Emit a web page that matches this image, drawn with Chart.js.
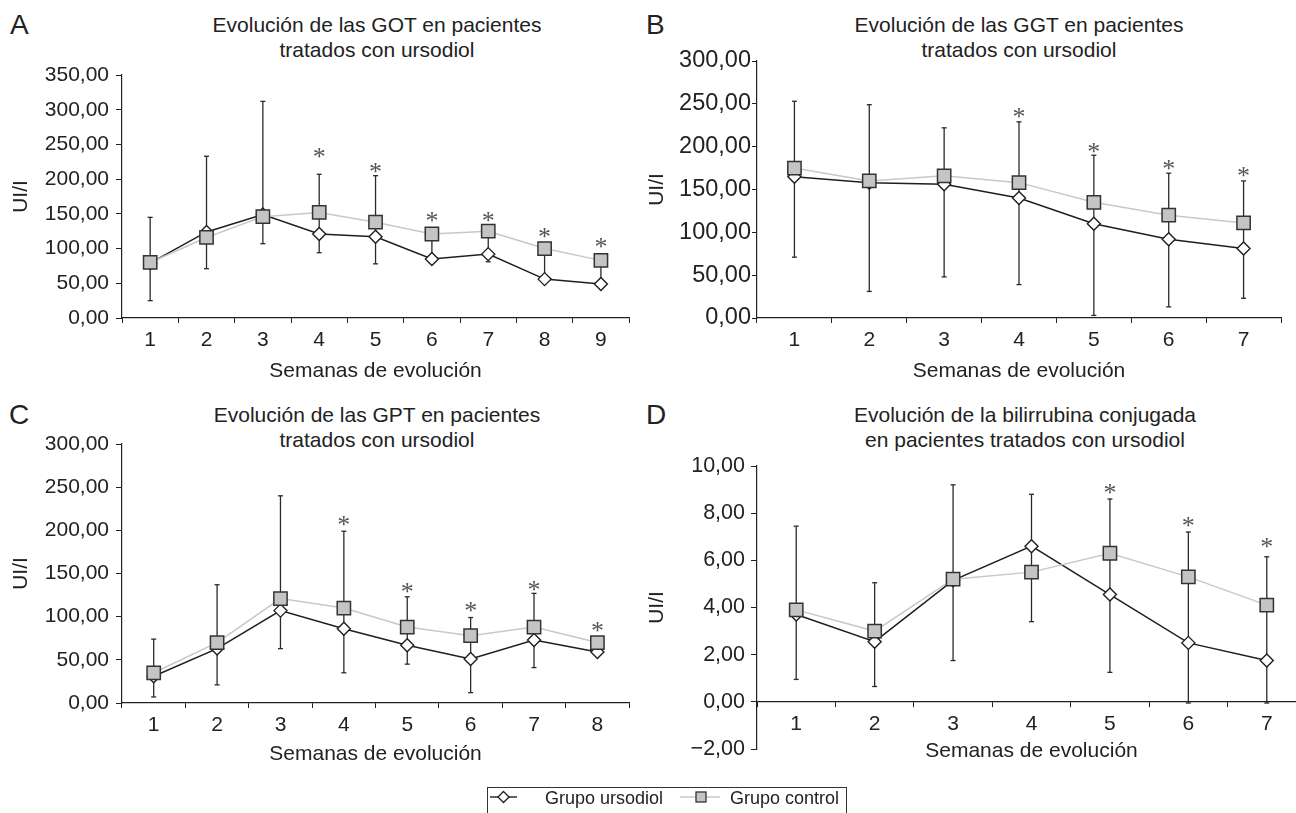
<!DOCTYPE html>
<html lang="es">
<head>
<meta charset="UTF-8">
<title>Evolución de GOT, GGT, GPT y bilirrubina con ursodiol</title>
<script src="https://cdn.jsdelivr.net/npm/chart.js"></script>
<style>
  body { margin: 0; width: 1296px; height: 813px; overflow: hidden; background: #fff; position: relative;
         font-family: "Liberation Sans", Arial, sans-serif; color: #222; }
  canvas { position: absolute; }
  .letra { position: absolute; font-size: 28px; line-height: 28px; }
  .titulo { position: absolute; width: 520px; text-align: center; font-size: 21px; line-height: 25px; }
  .leyenda-txt { position: absolute; font-size: 18px; line-height: 18px; white-space: nowrap; }
</style>
</head>
<body>
<div class="letra" style="left:10px; top:11px;">A</div>
<div class="letra" style="left:646px; top:11px;">B</div>
<div class="letra" style="left:9px; top:401px;">C</div>
<div class="letra" style="left:646px; top:401px;">D</div>

<div class="titulo" style="left:117px; top:12px;">Evolución de las GOT en pacientes<br>tratados con ursodiol</div>
<div class="titulo" style="left:759px; top:12px;">Evolución de las GGT en pacientes<br>tratados con ursodiol</div>
<div class="titulo" style="left:117px; top:402px;">Evolución de las GPT en pacientes<br>tratados con ursodiol</div>
<div class="titulo" style="left:765px; top:402px;">Evolución de la bilirrubina conjugada<br>en pacientes tratados con ursodiol</div>

<script>
// semanas de evolución
const semanas9 = ['1', '2', '3', '4', '5', '6', '7', '8', '9'];
const semanas8 = ['1', '2', '3', '4', '5', '6', '7', '8'];
const semanas7 = ['1', '2', '3', '4', '5', '6', '7'];

// A - GOT
const gotUrsodiol = [79, 124, 149, 121, 117, 85, 92, 56, 49];
const gotControl  = [80, 116, 146, 152, 138, 121, 125, 100, 83];
const gotSup      = [145, 233, 312, 207, 205, null, null, null, null];
const gotInf      = [25, 71, 107, 94, 78, null, 81, null, null];
const gotSignif   = [null, null, null, 236, 215, 144, 144, 122, 107];

// B - GGT
const ggtUrsodiol = [165, 158, 156, 140, 110, 92, 81];
const ggtControl  = [175, 160, 166, 158, 135, 120, 111];
const ggtSup      = [253, 249, 222, 229, 190, 169, 160];
const ggtInf      = [71, 31, 48, 39, 3, 13, 23];
const ggtSignif   = [null, null, null, 239, 198, 178, 170];

// C - GPT
const gptUrsodiol = [31, 63, 107, 86, 67, 51, 73, 59];
const gptControl  = [35, 70, 121, 110, 88, 78, 88, 70];
const gptSup      = [74, 137, 240, 199, 123, 99, 127, null];
const gptInf      = [7, 21, 63, 35, 45, 12, 41, null];
const gptSignif   = [null, null, null, 210, 132, 110, 135, 87];

// D - bilirrubina conjugada
const bilUrsodiol = [3.7, 2.55, 5.15, 6.6, 4.55, 2.5, 1.75];
const bilControl  = [3.9, 3.0, 5.2, 5.5, 6.3, 5.3, 4.1];
const bilSup      = [7.45, 5.05, 9.2, 8.8, 8.6, 7.2, 6.15];
const bilInf      = [0.95, 0.65, 1.75, 3.4, 1.25, -0.05, -0.05];
const bilSignif   = [null, null, null, null, 9.0, 7.6, 6.7];

const FONT = '"Liberation Sans", Arial, sans-serif';
const INK = '#222';

const panels = [
  { labels: semanas9, urso: gotUrsodiol, ctrl: gotControl, hi: gotSup, lo: gotInf, sig: gotSignif,
    yMin: 0, yMax: 350, yStep: 50,
    canvas: { left: 0, top: 0, w: 640, h: 400 }, plot: { l: 122, t: 75, r: 631, b: 318 },
    xH: 65.6, yTitlePad: 9, yFont: 21, yTick: 6, yPad: 7 },
  { labels: semanas7, urso: ggtUrsodiol, ctrl: ggtControl, hi: ggtSup, lo: ggtInf, sig: ggtSignif,
    yMin: 0, yMax: 300, yStep: 50,
    canvas: { left: 640, top: 0, w: 656, h: 400 }, plot: { l: 757, t: 61, r: 1281, b: 318 },
    xH: 65.6, yTitlePad: 5, yFont: 23.5, yTick: 5, yPad: 1 },
  { labels: semanas8, urso: gptUrsodiol, ctrl: gptControl, hi: gptSup, lo: gptInf, sig: gptSignif,
    yMin: 0, yMax: 300, yStep: 50,
    canvas: { left: 0, top: 400, w: 640, h: 400 }, plot: { l: 122, t: 444, r: 631, b: 703 },
    xH: 63.6, yTitlePad: 9, yFont: 21, yTick: 6, yPad: 7 },
  { labels: semanas7, urso: bilUrsodiol, ctrl: bilControl, hi: bilSup, lo: bilInf, sig: bilSignif,
    yMin: -2, yMax: 10, yStep: 2, axisAtZero: true,
    canvas: { left: 640, top: 400, w: 680, h: 380 }, plot: { l: 757, t: 466, r: 1306, b: 749 },
    xH: 61.6, yTitlePad: 5, yFont: 21.5, yTick: 6, yPad: 6 }
];

function fmt(v) {
  return v.toFixed(2).replace('.', ',').replace('-', '\u2212');
}

// barras de error y asteriscos
function marcas(p) {
  return {
    id: 'marcas',
    beforeDatasetsDraw(chart) {
      const { ctx, scales: { x, y } } = chart;
      ctx.save();
      ctx.strokeStyle = '#2a2a2a';
      ctx.lineWidth = 1.3;
      p.labels.forEach((lab, i) => {
        const px = x.getPixelForValue(i);
        const vals = [p.urso[i], p.ctrl[i], p.hi[i], p.lo[i]].filter(v => v != null);
        ctx.beginPath();
        ctx.moveTo(px, y.getPixelForValue(Math.max(...vals)));
        ctx.lineTo(px, y.getPixelForValue(Math.min(...vals)));
        ctx.stroke();
        [p.hi[i], p.lo[i]].forEach(v => {
          if (v == null) return;
          const py = y.getPixelForValue(v);
          ctx.beginPath();
          ctx.moveTo(px - 2.5, py);
          ctx.lineTo(px + 2.5, py);
          ctx.stroke();
        });
      });
      ctx.restore();
    },
    afterDatasetsDraw(chart) {
      const { ctx, scales: { x, y } } = chart;
      ctx.save();
      ctx.fillStyle = '#555';
      ctx.font = '26px "Liberation Serif", "Times New Roman", serif';
      ctx.textAlign = 'center';
      ctx.textBaseline = 'middle';
      p.sig.forEach((v, i) => {
        if (v == null) return;
        ctx.fillText('*', x.getPixelForValue(i), y.getPixelForValue(v) + 4.5);
      });
      ctx.restore();
    }
  };
}

function makeChart(p) {
  const cv = document.createElement('canvas');
  cv.width = p.canvas.w;
  cv.height = p.canvas.h;
  cv.style.left = p.canvas.left + 'px';
  cv.style.top = p.canvas.top + 'px';
  document.body.appendChild(cv);

  const bottomPad = p.canvas.top + p.canvas.h - p.plot.b - (p.axisAtZero ? 0 : p.xH);
  const yW = p.plot.l - p.canvas.left;

  new Chart(cv, {
    type: 'line',
    data: {
      labels: p.labels,
      datasets: [
        {
          label: 'Grupo control',
          data: p.ctrl,
          borderColor: '#c8c8c8',
          borderWidth: 1.5,
          pointStyle: 'rect',
          pointRadius: 9.4,
          pointBackgroundColor: '#c4c4c4',
          pointBorderColor: '#333',
          pointBorderWidth: 1.5,
          tension: 0
        },
        {
          label: 'Grupo ursodiol',
          data: p.urso,
          borderColor: '#1e1e1e',
          borderWidth: 1.5,
          pointStyle: 'rectRot',
          pointRadius: 6.5,
          pointBackgroundColor: '#fff',
          pointBorderColor: '#1e1e1e',
          pointBorderWidth: 1.4,
          tension: 0
        }
      ]
    },
    options: {
      responsive: false,
      animation: false,
      devicePixelRatio: 1,
      layout: {
        padding: { left: 0, top: p.plot.t - p.canvas.top, right: p.canvas.left + p.canvas.w - p.plot.r, bottom: bottomPad }
      },
      plugins: { legend: { display: false }, tooltip: { enabled: false } },
      scales: {
        x: {
          type: 'category',
          offset: true,
          position: p.axisAtZero ? { y: 0 } : 'bottom',
          grid: { display: true, drawOnChartArea: false, drawTicks: true, tickLength: 5, offset: true, color: INK, lineWidth: 1 },
          border: { display: true, color: INK, width: 1.2 },
          ticks: { color: INK, font: { family: FONT, size: 21 }, padding: 4.5, maxRotation: 0, autoSkip: false },
          title: { display: true, text: 'Semanas de evolución', color: INK, font: { family: FONT, size: 21 }, padding: 0 },
          afterFit: s => { s.height = p.xH; }
        },
        y: {
          type: 'linear',
          min: p.yMin,
          max: p.yMax,
          grid: { display: true, drawOnChartArea: false, drawTicks: true, tickLength: p.yTick, color: INK, lineWidth: 1 },
          border: { display: true, color: INK, width: 1.2 },
          ticks: { stepSize: p.yStep, color: INK, font: { family: FONT, size: p.yFont }, padding: p.yPad, callback: v => fmt(v) },
          title: { display: true, text: 'UI/I', color: INK, font: { family: FONT, size: 21 }, padding: { top: p.yTitlePad, bottom: 0 } },
          afterFit: s => { s.width = yW; }
        }
      }
    },
    plugins: [marcas(p)]
  });
}

panels.forEach(makeChart);
</script>

<div style="position:absolute; left:487px; top:787px; width:360px; height:40px; border:1px solid #333; box-sizing:border-box;"></div>
<svg style="position:absolute; left:488px; top:789px;" width="32" height="16">
  <line x1="2" y1="8" x2="29" y2="8" stroke="#1e1e1e" stroke-width="1.4"/>
  <polygon points="15.5,2.5 21,8 15.5,13.5 10,8" fill="#fff" stroke="#1e1e1e" stroke-width="1.3"/>
</svg>
<div class="leyenda-txt" style="left:545px; top:789px;">Grupo ursodiol</div>
<svg style="position:absolute; left:678px; top:789px;" width="44" height="16">
  <line x1="2" y1="8" x2="42" y2="8" stroke="#c8c8c8" stroke-width="1.5"/>
  <rect x="18" y="3" width="10" height="10" fill="#c4c4c4" stroke="#333" stroke-width="1.3"/>
</svg>
<div class="leyenda-txt" style="left:730px; top:789px;">Grupo control</div>
</body>
</html>
